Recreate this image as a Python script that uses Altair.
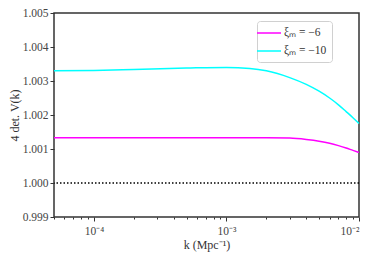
import altair as alt
import pandas as pd

# wavenumbers (Mpc^-1) sampled along the curves
k_vals = [5e-5, 1e-4, 2e-4, 5e-4, 1e-3, 1.5e-3, 2e-3, 3e-3, 4e-3, 5e-3, 6e-3, 7e-3, 8e-3, 9e-3, 1e-2]
v_xi6 = [1.00133, 1.00133, 1.00133, 1.00133, 1.00133, 1.00133, 1.00133, 1.00132, 1.00128,
         1.00123, 1.00117, 1.00110, 1.00103, 1.00096, 1.00090]
v_xi10 = [1.00330, 1.00331, 1.00334, 1.00338, 1.00340, 1.00337, 1.00330, 1.00310, 1.00290,
          1.00270, 1.00250, 1.00230, 1.00210, 1.00192, 1.00175]
series_labels = ["ξₘ = −6", "ξₘ = −10"]
series_colors = ["#ff00ff", "#00ffff"]
ref_level = [1.0]

x_domain = [5e-5, 1e-2]
x_major = [1e-4, 1e-3, 1e-2]
x_minor = [5e-5, 6e-5, 7e-5, 8e-5, 9e-5,
           2e-4, 3e-4, 4e-4, 5e-4, 6e-4, 7e-4, 8e-4, 9e-4,
           2e-3, 3e-3, 4e-3, 5e-3, 6e-3, 7e-3, 8e-3, 9e-3]
y_domain = [0.999, 1.005]
y_ticks = [0.999, 1.000, 1.001, 1.002, 1.003, 1.004, 1.005]

rows = []
for lab, vals in zip(series_labels, [v_xi6, v_xi10]):
    for k, v in zip(k_vals, vals):
        rows.append({"k": k, "v": v, "series": lab})
df = pd.DataFrame(rows)

FONT = "Liberation Serif"
xscale = alt.Scale(type="log", domain=x_domain, nice=False)
yscale = alt.Scale(domain=y_domain, nice=False, zero=False)
yaxis = alt.Axis(values=y_ticks, format=".3f", title="4 det. V(k)", tickSize=4,
                 labelPadding=2, titlePadding=1, labelOverlap=False, labelFlush=False)

lines = alt.Chart(df).mark_line(strokeWidth=1.5, interpolate="monotone").encode(
    x=alt.X("k:Q", scale=xscale,
            axis=alt.Axis(values=x_major, title="k (Mpc⁻¹)", tickSize=4, labelPadding=4,
                          titlePadding=3, labelOverlap=False,
                          labelExpr="datum.value < 0.0005 ? '10⁻⁴' : datum.value < 0.005 ? '10⁻³' : '10⁻²'")),
    y=alt.Y("v:Q", scale=yscale, axis=yaxis),
    color=alt.Color("series:N",
                    scale=alt.Scale(domain=series_labels, range=series_colors),
                    sort=series_labels,
                    legend=alt.Legend(title=None, orient="none", legendX=203, legendY=8,
                                      symbolType="M-2,0H2", symbolSize=144, symbolStrokeWidth=1.5,
                                      labelFont=FONT, labelFontSize=11.5, labelColor="#333",
                                      fillColor="white", strokeColor="#d0d0d0", cornerRadius=3,
                                      padding=5, labelOffset=8, rowPadding=5)),
)

ref = alt.Chart(pd.DataFrame({"v": ref_level})).mark_rule(
    color="black", strokeWidth=1.3, strokeDash=[1.5, 2]
).encode(y=alt.Y("v:Q", scale=yscale, axis=yaxis))

minor = alt.Chart(pd.DataFrame({"k": x_minor})).mark_tick(opacity=0).encode(
    x=alt.X("k:Q", scale=xscale,
            axis=alt.Axis(values=x_minor, labels=False, tickSize=2, orient="bottom",
                          title="", domain=False))
)

chart = alt.layer(lines, ref, minor).resolve_axis(x="independent").properties(
    width=305, height=204,
    autosize=alt.AutoSizeParams(type="none"),
    padding={"left": 46, "top": 5, "right": 7, "bottom": 41},
).configure_view(stroke="#333", strokeWidth=1.5).configure_axis(
    grid=False, domain=False, labelFont=FONT, titleFont=FONT, labelFontSize=11.5,
    titleFontSize=12, labelColor="#444", titleColor="#333", tickColor="#333",
    titleFontWeight="normal"
)

chart.save("out.html", embed_options={"renderer": "svg", "actions": False})
